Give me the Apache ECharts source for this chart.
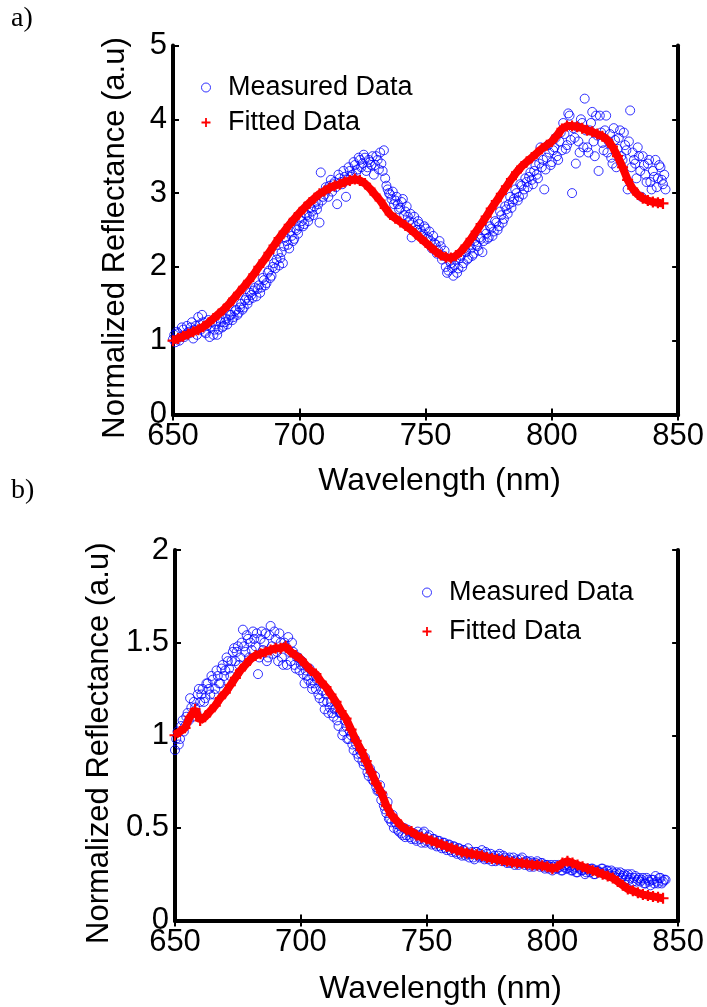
<!DOCTYPE html>
<html>
<head>
<meta charset="utf-8">
<script src="https://cdn.jsdelivr.net/npm/echarts@6/dist/echarts.min.js"></script>
<style>
html,body{margin:0;padding:0;background:#fff;}
#c{width:707px;height:1007px;}
</style>
</head>
<body>
<div id="c"></div>
<script>
// ---- Data ----
const xTicks = [650, 700, 750, 800, 850];
const wlInt = [
650,651,652,653,654,655,656,657,658,659,
660,661,662,663,664,665,666,667,668,669,
670,671,672,673,674,675,676,677,678,679,
680,681,682,683,684,685,686,687,688,689,
690,691,692,693,694,695,696,697,698,699,
700,701,702,703,704,705,706,707,708,709,
710,711,712,713,714,715,716,717,718,719,
720,721,722,723,724,725,726,727,728,729,
730,731,732,733,734,735,736,737,738,739,
740,741,742,743,744,745,746,747,748,749,
750,751,752,753,754,755,756,757,758,759,
760,761,762,763,764,765,766,767,768,769,
770,771,772,773,774,775,776,777,778,779,
780,781,782,783,784,785,786,787,788,789,
790,791,792,793,794,795,796,797,798,799,
800,801,802,803,804,805,806,807,808,809,
810,811,812,813,814,815,816,817,818,819,
820,821,822,823,824,825,826,827,828,829,
830,831,832,833,834,835,836,837,838,839,
840,841,842,843,844,845];
const wlHalf = [
650.5,651.5,652.5,653.5,654.5,655.5,656.5,657.5,658.5,659.5,
660.5,661.5,662.5,663.5,664.5,665.5,666.5,667.5,668.5,669.5,
670.5,671.5,672.5,673.5,674.5,675.5,676.5,677.5,678.5,679.5,
680.5,681.5,682.5,683.5,684.5,685.5,686.5,687.5,688.5,689.5,
690.5,691.5,692.5,693.5,694.5,695.5,696.5,697.5,698.5,699.5,
700.5,701.5,702.5,703.5,704.5,705.5,706.5,707.5,708.5,709.5,
710.5,711.5,712.5,713.5,714.5,715.5,716.5,717.5,718.5,719.5,
720.5,721.5,722.5,723.5,724.5,725.5,726.5,727.5,728.5,729.5,
730.5,731.5,732.5,733.5,734.5,735.5,736.5,737.5,738.5,739.5,
740.5,741.5,742.5,743.5,744.5,745.5,746.5,747.5,748.5,749.5,
750.5,751.5,752.5,753.5,754.5,755.5,756.5,757.5,758.5,759.5,
760.5,761.5,762.5,763.5,764.5,765.5,766.5,767.5,768.5,769.5,
770.5,771.5,772.5,773.5,774.5,775.5,776.5,777.5,778.5,779.5,
780.5,781.5,782.5,783.5,784.5,785.5,786.5,787.5,788.5,789.5,
790.5,791.5,792.5,793.5,794.5,795.5,796.5,797.5,798.5,799.5,
800.5,801.5,802.5,803.5,804.5,805.5,806.5,807.5,808.5,809.5,
810.5,811.5,812.5,813.5,814.5,815.5,816.5,817.5,818.5,819.5,
820.5,821.5,822.5,823.5,824.5,825.5,826.5,827.5,828.5,829.5,
830.5,831.5,832.5,833.5,834.5,835.5,836.5,837.5,838.5,839.5,
840.5,841.5,842.5,843.5,844.5];
const wlFit = [
650,652,654,656,658,660,662,664,666,668,
670,672,674,676,678,680,682,684,686,688,
690,692,694,696,698,700,702,704,706,708,
710,712,714,716,718,720,722,724,726,728,
730,732,734,736,738,740,742,744,746,748,
750,752,754,756,758,760,762,764,766,768,
770,772,774,776,778,780,782,784,786,788,
790,792,794,796,798,800,802,804,806,808,
810,812,814,816,818,820,822,824,826,828,
830,832,834,836,838,840,842,844];

// (a) measured reflectance
const measuredA_int = [
1.02,0.98,1.10,1.05,1.15,1.08,1.12,1.18,1.03,1.20,
1.32,1.15,1.25,1.10,1.28,1.18,1.08,1.22,1.15,1.25,
1.20,1.30,1.28,1.35,1.32,1.42,1.38,1.50,1.45,1.58,
1.55,1.62,1.68,1.60,1.75,1.72,1.82,1.78,1.95,1.88,
2.05,2.10,2.02,2.20,2.28,2.35,2.25,2.42,2.38,2.50,
2.55,2.62,2.58,2.70,2.68,2.75,2.82,2.78,2.60,2.90,
2.98,3.05,3.10,3.02,3.15,2.85,3.20,3.12,3.22,3.18,
3.30,3.25,3.38,3.32,3.45,3.40,3.48,3.35,3.42,3.50,
3.38,3.45,3.55,3.30,3.20,3.05,2.98,3.02,2.90,2.85,
2.80,2.92,2.75,2.68,2.72,2.60,2.55,2.62,2.50,2.45,
2.52,2.40,2.35,2.42,2.30,2.22,2.28,2.15,2.00,1.95,
2.05,1.88,2.10,1.98,2.15,2.05,2.20,2.12,2.25,2.18,
2.30,2.22,2.38,2.35,2.45,2.40,2.52,2.48,2.60,2.55,
2.70,2.65,2.78,2.85,2.80,2.92,3.00,2.95,3.10,3.05,
3.15,3.22,3.18,3.30,3.25,3.40,3.35,3.05,3.48,3.55,
3.42,3.62,3.50,3.70,3.58,3.80,3.65,4.05,3.00,3.75,
3.90,3.55,3.95,4.28,3.62,3.85,4.10,3.50,3.78,4.05,
3.68,3.85,3.55,3.80,3.40,3.72,3.60,3.85,3.45,3.65,
3.05,4.12,3.55,3.40,3.62,3.30,3.50,3.25,3.40,3.15,
3.30,3.45,3.20,3.35,3.12,3.05];
const measuredA_half = [
1.08,1.12,1.00,1.18,1.05,1.20,1.10,1.25,1.15,1.08,
1.22,1.35,1.12,1.20,1.05,1.25,1.15,1.08,1.30,1.18,
1.25,1.22,1.35,1.28,1.40,1.35,1.45,1.42,1.55,1.50,
1.65,1.58,1.72,1.70,1.65,1.85,1.75,1.92,1.85,2.00,
1.98,2.18,2.12,2.05,2.40,2.30,2.48,2.35,2.52,2.45,
2.68,2.55,2.72,2.62,2.80,2.70,2.88,2.85,3.28,2.95,
3.08,2.95,3.18,3.12,3.08,3.25,3.15,3.30,2.95,3.35,
3.22,3.42,3.28,3.48,3.35,3.52,3.30,3.45,3.38,3.25,
3.50,3.32,3.40,3.58,3.10,3.00,2.92,2.85,2.95,2.78,
2.88,2.70,2.82,2.62,2.40,2.68,2.50,2.58,2.42,2.55,
2.38,2.48,2.25,2.32,2.18,2.35,2.10,2.22,1.92,2.08,
1.98,2.02,1.92,2.12,2.00,2.25,2.10,2.30,2.15,2.35,
2.28,2.40,2.20,2.50,2.38,2.55,2.42,2.62,2.50,2.75,
2.60,2.82,2.72,2.95,2.88,3.05,2.90,3.12,2.98,3.20,
3.08,3.28,3.12,3.38,3.20,3.62,3.45,3.32,3.65,3.38,
3.58,3.75,3.45,3.82,3.95,3.60,4.08,3.72,3.88,3.40,
3.70,4.00,3.62,3.85,3.55,3.95,3.70,4.05,3.30,3.82,
3.58,4.05,3.70,3.48,3.88,3.35,3.75,3.50,3.82,3.58,
3.70,3.35,3.45,3.20,3.50,2.95,3.38,3.15,3.45,3.05,
3.22,3.08,3.38,3.18,3.25];
// (a) fitted reflectance
const fittedA = [
1.00,1.03,1.06,1.09,1.12,1.15,1.19,1.24,1.30,1.36,
1.42,1.49,1.57,1.65,1.73,1.81,1.90,2.00,2.09,2.19,
2.29,2.39,2.48,2.57,2.65,2.73,2.80,2.87,2.93,2.99,
3.03,3.07,3.10,3.12,3.15,3.17,3.19,3.17,3.13,3.06,
2.98,2.90,2.80,2.71,2.66,2.61,2.56,2.51,2.45,2.39,
2.33,2.27,2.21,2.16,2.13,2.12,2.15,2.21,2.29,2.38,
2.48,2.58,2.68,2.79,2.89,2.99,3.09,3.19,3.28,3.36,
3.42,3.48,3.54,3.60,3.65,3.70,3.78,3.87,3.91,3.91,
3.90,3.88,3.85,3.83,3.80,3.77,3.72,3.63,3.50,3.35,
3.18,3.06,2.98,2.93,2.90,2.88,2.87,2.86];

// (b) measured reflectance
const measuredB_int = [
0.92,1.02,0.98,1.08,1.05,1.12,1.20,1.10,1.15,1.22,
1.18,1.25,1.20,1.28,1.22,1.30,1.25,1.32,1.28,1.38,
1.35,1.40,1.32,1.45,1.40,1.48,1.42,1.57,1.45,1.52,
1.50,1.56,1.48,1.33,1.52,1.46,1.55,1.42,1.59,1.44,
1.52,1.40,1.50,1.38,1.48,1.53,1.40,1.45,1.36,1.42,
1.38,1.33,1.35,1.30,1.28,1.32,1.25,1.22,1.28,1.18,
1.22,1.12,1.18,1.10,1.15,1.05,1.12,1.02,1.05,0.98,
1.00,0.92,0.95,0.88,0.90,0.84,0.85,0.78,0.80,0.75,
0.72,0.70,0.65,0.62,0.58,0.55,0.53,0.50,0.52,0.48,
0.47,0.50,0.46,0.48,0.44,0.47,0.43,0.46,0.42,0.48,
0.43,0.46,0.41,0.44,0.40,0.43,0.39,0.42,0.38,0.41,
0.37,0.40,0.36,0.39,0.35,0.38,0.36,0.34,0.37,0.33,
0.37,0.34,0.38,0.33,0.36,0.34,0.32,0.35,0.33,0.36,
0.32,0.34,0.31,0.34,0.32,0.30,0.33,0.31,0.34,0.30,
0.32,0.29,0.31,0.30,0.32,0.29,0.31,0.28,0.30,0.29,
0.27,0.30,0.28,0.29,0.27,0.30,0.28,0.29,0.27,0.29,
0.26,0.28,0.27,0.25,0.28,0.26,0.28,0.25,0.27,0.26,
0.28,0.25,0.27,0.24,0.26,0.25,0.23,0.26,0.24,0.22,
0.25,0.23,0.21,0.24,0.22,0.21,0.23,0.20,0.22,0.19,
0.22,0.24,0.20,0.23,0.21,0.22];
const measuredB_half = [
0.98,0.95,1.05,1.02,1.10,1.08,1.15,1.18,1.12,1.25,
1.22,1.18,1.28,1.25,1.32,1.22,1.35,1.28,1.36,1.32,
1.42,1.36,1.40,1.47,1.45,1.38,1.50,1.48,1.54,1.42,
1.46,1.52,1.55,1.42,1.56,1.50,1.40,1.54,1.48,1.56,
1.45,1.55,1.42,1.50,1.38,1.45,1.50,1.38,1.42,1.35,
1.40,1.28,1.32,1.36,1.25,1.28,1.30,1.20,1.24,1.14,
1.18,1.15,1.12,1.14,1.08,1.12,1.00,1.08,0.98,1.02,
0.95,0.98,0.90,0.92,0.86,0.88,0.80,0.82,0.76,0.78,
0.70,0.73,0.68,0.60,0.64,0.55,0.57,0.53,0.49,0.51,
0.46,0.45,0.49,0.45,0.47,0.44,0.48,0.44,0.47,0.42,
0.45,0.42,0.44,0.41,0.43,0.40,0.42,0.39,0.41,0.38,
0.40,0.37,0.39,0.36,0.38,0.35,0.39,0.36,0.34,0.37,
0.35,0.36,0.34,0.37,0.33,0.36,0.34,0.32,0.35,0.33,
0.35,0.32,0.33,0.31,0.34,0.32,0.30,0.33,0.31,0.32,
0.30,0.32,0.29,0.31,0.30,0.31,0.29,0.30,0.28,0.30,
0.29,0.28,0.30,0.27,0.29,0.28,0.30,0.27,0.28,0.26,
0.29,0.27,0.28,0.26,0.27,0.28,0.25,0.27,0.26,0.28,
0.26,0.27,0.25,0.27,0.24,0.26,0.25,0.23,0.25,0.24,
0.22,0.25,0.23,0.21,0.23,0.22,0.20,0.23,0.21,0.22,
0.20,0.21,0.23,0.20,0.22];
// (b) fitted reflectance
const fittedB = [
1.00,1.02,1.04,1.10,1.14,1.08,1.10,1.13,1.16,1.20,
1.23,1.27,1.31,1.35,1.38,1.41,1.43,1.44,1.45,1.46,
1.47,1.47,1.48,1.45,1.43,1.41,1.38,1.35,1.33,1.29,
1.26,1.22,1.18,1.13,1.09,1.03,0.97,0.92,0.86,0.80,
0.74,0.69,0.62,0.57,0.54,0.51,0.49,0.48,0.46,0.45,
0.44,0.43,0.42,0.41,0.40,0.39,0.38,0.37,0.365,0.36,
0.355,0.35,0.34,0.335,0.33,0.325,0.32,0.315,0.31,0.31,
0.305,0.30,0.30,0.295,0.29,0.28,0.29,0.31,0.32,0.31,
0.30,0.29,0.28,0.27,0.26,0.25,0.24,0.23,0.21,0.19,
0.17,0.16,0.15,0.14,0.135,0.13,0.125,0.12];

// ---- Build ----
function zip(xs, ys) {
  const n = Math.min(xs.length, ys.length);
  const out = [];
  for (let i = 0; i < n; i++) out.push([xs[i], ys[i]]);
  return out;
}
const FONT = 'Liberation Sans, Arial, sans-serif';
const plusPath = 'path://M4,0H6V4H10V6H6V10H4V6H0V4H4Z';
const BLUE = '#0000ff', RED = '#ff0000';

function xAx(gi, show) {
  return {
    type: 'value', gridIndex: gi, min: 650, max: 850, interval: 50,
    position: show ? 'bottom' : 'top',
    name: show ? 'Wavelength (nm)' : '',
    nameLocation: 'middle', nameGap: gi === 0 ? 51 : 53,
    nameTextStyle: {fontFamily: FONT, fontSize: 32, color: '#000', padding: [0, 0, 0, 28]},
    axisLine: {show: true, lineStyle: {color: '#000', width: 4}},
    axisTick: {show: true, inside: true, length: 6, lineStyle: {color: '#000', width: 2}},
    axisLabel: {show: show, fontFamily: FONT, fontSize: 31, color: '#000', margin: 6},
    splitLine: {show: false}
  };
}
function yAx(gi, max, interval, show) {
  return {
    type: 'value', gridIndex: gi, min: 0, max: max, interval: interval,
    position: show ? 'left' : 'right',
    name: show ? 'Normalized Reflectance (a.u)' : '',
    nameLocation: 'middle', nameGap: 42, nameRotate: 90,
    nameTextStyle: {fontFamily: FONT, fontSize: 31, color: '#000', padding: [0, 16, 0, 0]},
    axisLine: {show: true, lineStyle: {color: '#000', width: 4}},
    axisTick: {show: true, inside: true, length: 6, lineStyle: {color: '#000', width: 2}},
    axisLabel: {show: show, fontFamily: FONT, fontSize: 31, color: '#000', margin: 6},
    splitLine: {show: false}
  };
}
function measuredSeries(xi, yi, data) {
  return {
    name: 'Measured Data', type: 'scatter', xAxisIndex: xi, yAxisIndex: yi,
    data: data, symbol: 'circle', symbolSize: 9,
    itemStyle: {color: 'rgba(0,0,0,0)', borderColor: BLUE, borderWidth: 1},
    emphasis: {disabled: true}, silent: true, z: 2
  };
}
function fittedSeries(xi, yi, data) {
  return {
    name: 'Fitted Data', type: 'line', xAxisIndex: xi, yAxisIndex: yi,
    data: data, symbol: plusPath, symbolSize: 11, showSymbol: true,
    itemStyle: {color: RED}, lineStyle: {color: RED, width: 8},
    emphasis: {disabled: true}, silent: true, z: 3, animation: false
  };
}

const chart = echarts.init(document.getElementById('c'), null, {renderer: 'canvas'});
chart.setOption({
  backgroundColor: '#fff',
  animation: false,
  grid: [
    {left: 173, top: 45.5, width: 505.5, height: 369, show: false},
    {left: 175, top: 550, width: 506, height: 370.5, show: false}
  ],
  xAxis: [xAx(0, true), xAx(0, false), xAx(1, true), xAx(1, false)],
  yAxis: [yAx(0, 5, 1, true), yAx(0, 5, 1, false), yAx(1, 2, 0.5, true), yAx(1, 2, 0.5, false)],
  legend: [
    {
      orient: 'vertical', left: 196, top: 69, itemWidth: 34, itemHeight: 9, itemGap: 8,
      textStyle: {fontFamily: FONT, fontSize: 27, color: '#000', lineHeight: 27},
      selectedMode: false,
      data: [
        {name: 'Measured Data', icon: 'circle', itemStyle: {color: 'rgba(0,0,0,0)', borderColor: BLUE, borderWidth: 1}},
        {name: 'Fitted Data', icon: plusPath, itemStyle: {color: RED}}
      ]
    },
    {
      orient: 'vertical', left: 417, top: 574, itemWidth: 34, itemHeight: 9, itemGap: 12,
      textStyle: {fontFamily: FONT, fontSize: 27, color: '#000', lineHeight: 27},
      selectedMode: false,
      data: [
        {name: 'Measured Data', icon: 'circle', itemStyle: {color: 'rgba(0,0,0,0)', borderColor: BLUE, borderWidth: 1}},
        {name: 'Fitted Data', icon: plusPath, itemStyle: {color: RED}}
      ]
    }
  ],
  graphic: [
    {type: 'text', left: 11, top: 5, style: {text: 'a)', font: '28px "Liberation Serif", "Times New Roman", serif', fill: '#000'}},
    {type: 'text', left: 11, top: 477, style: {text: 'b)', font: '28px "Liberation Serif", "Times New Roman", serif', fill: '#000'}}
  ],
  series: [
    measuredSeries(0, 0, zip(wlInt, measuredA_int)),
    measuredSeries(0, 0, zip(wlHalf, measuredA_half)),
    fittedSeries(0, 0, zip(wlFit, fittedA)),
    measuredSeries(2, 2, zip(wlInt, measuredB_int)),
    measuredSeries(2, 2, zip(wlHalf, measuredB_half)),
    fittedSeries(2, 2, zip(wlFit, fittedB))
  ]
});
</script>
</body>
</html>
